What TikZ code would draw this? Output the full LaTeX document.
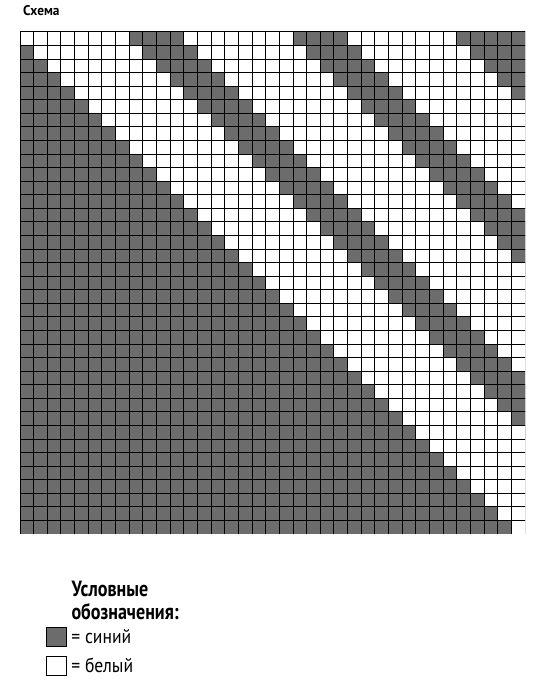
\documentclass[tikz,border=0pt]{standalone}
\usepackage{fontspec}
\setmainfont{PT Sans}
\usetikzlibrary{positioning}

\begin{document}
\begin{tikzpicture}[x=1pt,y=1pt]
\definecolor{fillColor}{RGB}{255,255,255}
\definecolor{drawColor}{RGB}{0,0,0}
\definecolor{blueColor}{RGB}{108,108,108}
\tikzset{
  darkcell/.style={fill=blueColor},
  gridline/.style={draw=drawColor,line width=0.95pt,line cap=rect},
  keybox/.style={draw=drawColor,line width=0.9pt,minimum width=20pt,minimum height=19pt,inner sep=0pt},
  keytext/.style={inner sep=0pt,outer sep=0pt,font=\fontsize{20}{24}\selectfont,xscale=0.88},
  headtext/.style={inner sep=0pt,outer sep=0pt,anchor=base west,font=\fontsize{22}{26}\selectfont\bfseries,xscale=0.82}
}
\path[use as bounding box,fill=fillColor] (0,0) rectangle (554,699);

% title
\node[anchor=base west,inner sep=0pt,font=\fontsize{14}{16}\selectfont\bfseries,xscale=0.95] (title) at (23,683) {Схема};

% chart: 37 x 37 cells, rows counted from the top
\begin{scope}[shift={(20,165)},x=13.65pt,y=13.57pt]
\clip (0,0) rectangle (37,37);
\foreach \r in {0,...,36}{
  \path[darkcell] (0,36-\r) rectangle (\r,37-\r);
  \path[darkcell] (\r+8,36-\r) rectangle (\r+12,37-\r);
  \path[darkcell] (\r+20,36-\r) rectangle (\r+24,37-\r);
  \path[darkcell] (\r+32,36-\r) rectangle (\r+44,37-\r);
}
\foreach \i in {0,...,37}{
  \path[gridline] (\i,0) -- (\i,37);
  \path[gridline] (0,\i) -- (37,\i);
}
\end{scope}

% legend
\node[headtext] (head1) at (71.5,102) {Условные};
\node[headtext] (head2) at (71.5,79) {обозначения:};
\node[keybox,fill=blueColor] (keyBlue) at (56,62.5) {};
\node[keybox,fill=fillColor] (keyWhite) at (56,33.5) {};
\node[keytext,right=5pt of keyBlue] (txtBlue) {= синий};
\node[keytext,right=5pt of keyWhite] (txtWhite) {= белый};
\end{tikzpicture}
\end{document}
